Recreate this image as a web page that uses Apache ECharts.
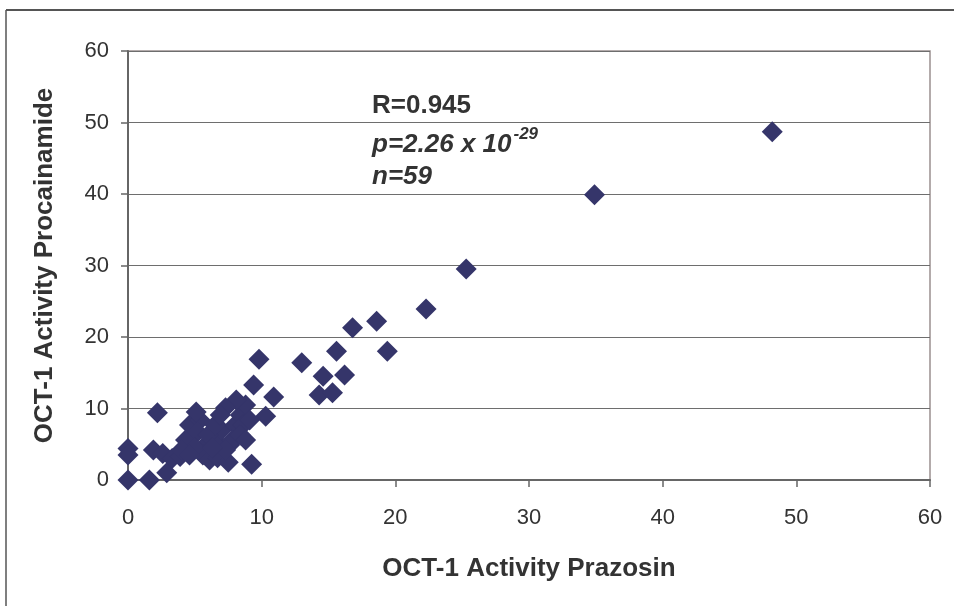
<!DOCTYPE html>
<html>
<head>
<meta charset="utf-8">
<script src="https://cdn.jsdelivr.net/npm/echarts@6/dist/echarts.min.js"></script>
<style>html,body{margin:0;padding:0;background:#fff;}#c{width:954px;height:606px;}</style>
</head>
<body>
<div id="c"></div>
<script>
var xTicks = [0, 10, 20, 30, 40, 50, 60];
var yTicks = [0, 10, 20, 30, 40, 50, 60];
var prazosin = [48.2, 34.9, 25.3, 22.3, 18.6, 16.8, 19.4, 15.6, 13.0, 14.6, 16.2, 14.3, 15.3, 10.9, 9.8, 9.4, 2.2, 10.3,
  0, 0, 0, 1.6, 2.9, 1.9, 2.6, 3.3, 9.25, 3.9,
  4.6, 4.3, 5.4, 5.2, 5.8, 6.5, 5.6, 6.1, 6.7, 7.5, 7.6, 7.0, 8.0, 8.4, 8.8, 8.1, 7.3, 8.6, 9.1, 7.8, 7.3, 8.4, 6.0, 5.0, 4.0, 4.6, 6.5, 6.9, 5.1, 6.3, 8.8];
var procainamide = [48.7, 39.9, 29.5, 23.9, 22.2, 21.3, 18.0, 18.0, 16.4, 14.5, 14.7, 11.9, 12.2, 11.6, 16.9, 13.3, 9.4, 8.9,
  4.4, 3.5, 0, 0, 1.0, 4.2, 3.7, 3.0, 2.2, 3.3,
  7.7, 5.6, 8.4, 6.7, 4.9, 5.6, 3.5, 2.8, 3.1, 2.5, 4.9, 7.0, 7.7, 9.1, 10.5, 11.2, 10.1, 7.7, 8.4, 5.6, 4.2, 6.3, 6.3, 4.5, 4.2, 3.5, 7.7, 9.1, 9.5, 4.5, 5.6];
var annotR = 'R=0.945';
var annotP = 'p=2.26 x 10';
var annotExp = '-29';
var annotN = 'n=59';

var points = prazosin.map(function (x, i) { return [x, procainamide[i]]; });
var fam = "'Liberation Sans', Arial, sans-serif";
var pFont = 'italic bold 26px ' + fam;
var ctx = document.createElement('canvas').getContext('2d');
ctx.font = pFont;
var pWidth = ctx.measureText(annotP).width;

var chart = echarts.init(document.getElementById('c'));
var lab = { color: '#333', fontSize: 22, fontFamily: fam };
var ttl = { color: '#333', fontSize: 26, fontWeight: 'bold', fontFamily: fam };
chart.setOption({
  animation: false,
  backgroundColor: '#fff',
  grid: { left: 128, right: 24, top: 51, bottom: 126, show: true, borderColor: '#9a9090', borderWidth: 1.5 },
  xAxis: {
    type: 'value', min: xTicks[0], max: xTicks[xTicks.length - 1], interval: 10,
    name: 'OCT-1 Activity Prazosin', nameLocation: 'middle', nameGap: 76, nameTextStyle: ttl,
    axisLine: { show: true, onZero: false, lineStyle: { color: '#666', width: 2 } },
    axisTick: { show: true, inside: false, length: 7, lineStyle: { color: '#666', width: 1.5 } },
    axisLabel: Object.assign({ margin: 27 }, lab),
    splitLine: { show: false }
  },
  yAxis: {
    type: 'value', min: yTicks[0], max: yTicks[yTicks.length - 1], interval: 10,
    name: 'OCT-1 Activity Procainamide', nameLocation: 'middle', nameGap: 70, nameTextStyle: ttl,
    axisLine: { show: true, onZero: false, lineStyle: { color: '#666', width: 2 } },
    axisTick: { show: true, inside: false, length: 7, lineStyle: { color: '#666', width: 1.5 } },
    axisLabel: Object.assign({ margin: 19 }, lab),
    splitLine: { show: true, lineStyle: { color: '#6e6e6e', width: 1.2 } }
  },
  series: [{
    type: 'scatter', symbol: 'diamond', symbolSize: 21, data: points,
    itemStyle: { color: '#35356a', opacity: 1 }
  }],
  graphic: [
    { type: 'line', shape: { x1: 6, y1: 10, x2: 954, y2: 10 }, style: { stroke: '#555', lineWidth: 2 } },
    { type: 'line', shape: { x1: 6, y1: 10, x2: 6, y2: 606 }, style: { stroke: '#555', lineWidth: 1.5 } },
    { type: 'text', x: 372, y: 106, style: { text: annotR, fill: '#333', font: 'bold 26px ' + fam, textVerticalAlign: 'middle' } },
    { type: 'text', x: 372, y: 145, style: { text: annotP, fill: '#333', font: pFont, textVerticalAlign: 'middle' } },
    { type: 'text', x: 372 + pWidth + 2, y: 134, style: { text: annotExp, fill: '#333', font: 'italic bold 17px ' + fam, textVerticalAlign: 'middle' } },
    { type: 'text', x: 372, y: 177, style: { text: annotN, fill: '#333', font: pFont, textVerticalAlign: 'middle' } }
  ]
});
</script>
</body>
</html>
